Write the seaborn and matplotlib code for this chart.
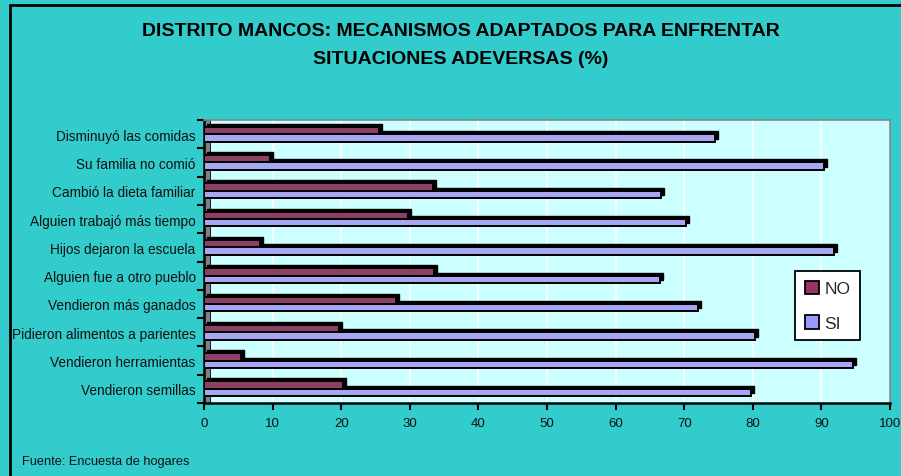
import numpy as np
import pandas as pd
import seaborn as sns
import matplotlib.pyplot as plt
from matplotlib.patches import Patch, Rectangle
from matplotlib.lines import Line2D
from matplotlib.transforms import ScaledTranslation
from matplotlib import font_manager

# Survey answers per coping mechanism (%)
categories = [
    "Disminuyó las comidas",
    "Su familia no comió",
    "Cambió la dieta familiar",
    "Alguien trabajó más tiempo",
    "Hijos dejaron la escuela",
    "Alguien fue a otro pueblo",
    "Vendieron más ganados",
    "Pidieron alimentos a parientes",
    "Vendieron herramientas",
    "Vendieron semillas",
]
no_values = [25.5, 9.6, 33.4, 29.7, 8.2, 33.5, 28.0, 19.7, 5.4, 20.3]
si_values = [74.5, 90.4, 66.6, 70.3, 91.8, 66.5, 72.0, 80.3, 94.6, 79.7]
series = ["NO", "SI"]
x_ticks = list(range(0, 101, 10))

title_lines = ["DISTRITO MANCOS: MECANISMOS ADAPTADOS PARA ENFRENTAR",
               "SITUACIONES ADEVERSAS (%)"]
source_note = "Fuente: Encuesta de hogares"

df = pd.DataFrame({
    "mecanismo": categories * 2,
    "respuesta": [series[0]] * len(categories) + [series[1]] * len(categories),
    "porcentaje": no_values + si_values,
})

sns.set_theme(style="white")
available = {f.name for f in font_manager.fontManager.ttflist}
base_font = "Liberation Sans" if "Liberation Sans" in available else "DejaVu Sans"
plt.rcParams["font.family"] = [base_font, "DejaVu Sans"]

BG = "#33CCCC"
WALL = "#CCFFFF"
colors = {"NO": "#993366", "SI": "#9999FF"}

W, H = 901, 477
fig = plt.figure(figsize=(W / 100, H / 100), dpi=100, facecolor=BG)
ax_l, ax_r, ax_t, ax_b = 204, 890, 121, 404
ax = fig.add_axes([ax_l / W, 1 - ax_b / H, (ax_r - ax_l) / W, (ax_b - ax_t) / H])
ax.set_facecolor(WALL)

# depth layer of the 3D bars (dark block shifted up-right)
sns.barplot(data=df, y="mecanismo", x="porcentaje", hue="respuesta",
            hue_order=series, palette={"NO": "black", "SI": "black"},
            orient="h", width=0.52, errorbar=None, edgecolor="black",
            linewidth=1.0, legend=False, ax=ax)
depth = ScaledTranslation(0.03, 0.03, fig.dpi_scale_trans)
for p in ax.patches:
    p.set_transform(ax.transData + depth)
    p.set_zorder(2)
n_depth = len(ax.patches)

# front faces
sns.barplot(data=df, y="mecanismo", x="porcentaje", hue="respuesta",
            hue_order=series, palette=colors, orient="h", width=0.52,
            errorbar=None, edgecolor="black", linewidth=1.4,
            legend=False, ax=ax)
for p in ax.patches[n_depth:]:
    p.set_zorder(3)

ax.set_xlim(0, 100)
ax.set_ylim(len(categories) - 0.5, -0.5)
ax.set_xlabel("")
ax.set_ylabel("")

# gridlines on the back wall
ax.set_xticks(x_ticks)
ax.xaxis.grid(True, color="white", linewidth=1.2, zorder=0)
ax.yaxis.grid(False)
ax.set_axisbelow(True)

# grey side wall
ax.add_patch(Rectangle((0, 0), 6 / (ax_r - ax_l), 1, transform=ax.transAxes,
                       facecolor="#808080", edgecolor="black", linewidth=0.6,
                       zorder=1, clip_on=False))

ax.tick_params(axis="x", which="major", direction="out", length=5, width=1.5,
               color="black", labelsize=9.5, pad=5, bottom=True)
ax.set_yticks(range(len(categories)))
ax.set_yticklabels(categories, fontsize=9.8)
ax.set_yticks(np.arange(-0.5, len(categories), 1.0), minor=True)
ax.tick_params(axis="y", which="major", length=0, pad=6)
ax.tick_params(axis="y", which="minor", direction="out", length=5, width=1.5,
               color="black", left=True)
for lbl in ax.get_xticklabels() + ax.get_yticklabels():
    lbl.set_color("#111111")

for side in ("left", "bottom"):
    ax.spines[side].set_color("black")
    ax.spines[side].set_linewidth(1.8)
for side in ("top", "right"):
    ax.spines[side].set_color("#888888")
    ax.spines[side].set_linewidth(1.2)

handles = [Patch(facecolor=colors[s], edgecolor="black", linewidth=1.3, label=s)
           for s in series]
leg = ax.legend(handles=handles, loc="upper left",
                bbox_to_anchor=(795 / W, 1 - 272 / H),
                bbox_transform=fig.transFigure, frameon=True, fancybox=False,
                framealpha=1, edgecolor="black", facecolor="white",
                fontsize=12.5, handlelength=0.85, handleheight=0.85,
                labelspacing=1.05, borderpad=0.55, handletextpad=0.3,
                borderaxespad=0)
leg.get_frame().set_linewidth(1.3)
leg.set_zorder(5)

fig.text(0.511, 1 - 31 / H, title_lines[0], ha="center", va="center",
         fontsize=14, fontweight="bold", color="black")
fig.text(0.511, 1 - 60 / H, title_lines[1], ha="center", va="center",
         fontsize=14, fontweight="bold", color="black")
fig.text(22 / W, 1 - 462 / H, source_note, ha="left", va="center",
         fontsize=9.2, color="#111111")

# outer frame of the chart area
fig.add_artist(Line2D([10 / W, 1], [1 - 6 / H, 1 - 6 / H],
                      transform=fig.transFigure, color="black", linewidth=2))
fig.add_artist(Line2D([10 / W, 10 / W], [0, 1 - 6 / H],
                      transform=fig.transFigure, color="black", linewidth=2))

fig.savefig("out.png", dpi=100, facecolor=BG)
